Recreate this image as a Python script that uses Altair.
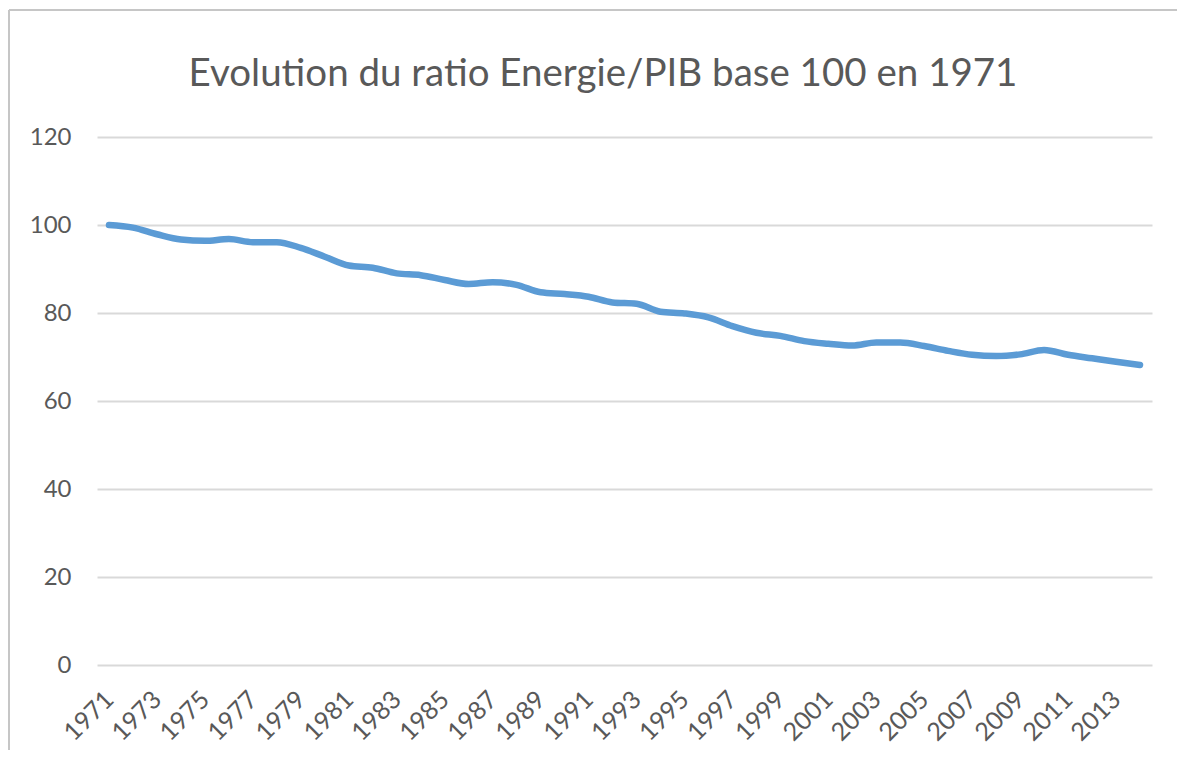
import altair as alt
import pandas as pd

years = list(range(1971, 2015))
ratio = [100.0, 99.4, 97.9, 96.7, 96.4, 96.8, 96.1, 96.1, 94.8, 92.8,
         90.8, 90.3, 89.0, 88.6, 87.5, 86.6, 87.0, 86.4, 84.7, 84.3,
         83.7, 82.4, 82.1, 80.3, 79.9, 79.0, 77.0, 75.5, 74.8, 73.6,
         73.0, 72.6, 73.3, 73.3, 72.5, 71.4, 70.5, 70.2, 70.6, 71.6,
         70.5, 69.7, 68.9, 68.2]
y_ticks = [0, 20, 40, 60, 80, 100, 120]
x_labels = years[::2]
title_text = ["Evolution du ratio Energie/PIB base 100 en 1971"]

df = pd.DataFrame({"year": years, "ratio": ratio})
df_title = pd.DataFrame({"t": title_text})

FONT = "Lato"
GREY = "#595959"

line = alt.Chart(df).mark_line(
    color="#5B9BD5", strokeWidth=6.5, strokeCap="round", strokeJoin="round",
    interpolate="monotone"
).encode(
    x=alt.X("year:O", title=None,
            scale=alt.Scale(type="point", padding=0.5),
            axis=alt.Axis(values=x_labels, labelAngle=-45, labelAlign="right",
                          labelBaseline="middle", labelFontSize=25,
                          labelColor=GREY, labelFont=FONT, ticks=False,
                          domain=False, grid=False, labelPadding=30)),
    y=alt.Y("ratio:Q", title=None,
            scale=alt.Scale(domain=[0, 120], nice=False, zero=True),
            axis=alt.Axis(values=y_ticks, labelFontSize=24, labelColor=GREY,
                          labelFont=FONT, ticks=False, domain=False,
                          gridColor="#d9d9d9", gridWidth=2, labelPadding=26))
)

title = alt.Chart(df_title).mark_text(
    font=FONT, fontSize=38.5, color=GREY, align="center", baseline="alphabetic"
).encode(text="t:N", x=alt.value(506), y=alt.value(-51))

border_left = alt.Chart(df_title).mark_rule(color="#c6c6c6", strokeWidth=2).encode(
    x=alt.value(-88), y=alt.value(-127), y2=alt.value(640))
border_top = alt.Chart(df_title).mark_rule(color="#c6c6c6", strokeWidth=2).encode(
    x=alt.value(-88), x2=alt.value(1100), y=alt.value(-127))

chart = alt.layer(border_left, border_top, title, line).properties(
    width=1055, height=528,
    background="white",
    autosize=alt.AutoSizeParams(type="none"),
    padding={"left": 89, "top": 129, "right": 25, "bottom": 85},
).configure_view(stroke=None)

chart.save("out.html", embed_options={"renderer": "svg", "actions": False})
